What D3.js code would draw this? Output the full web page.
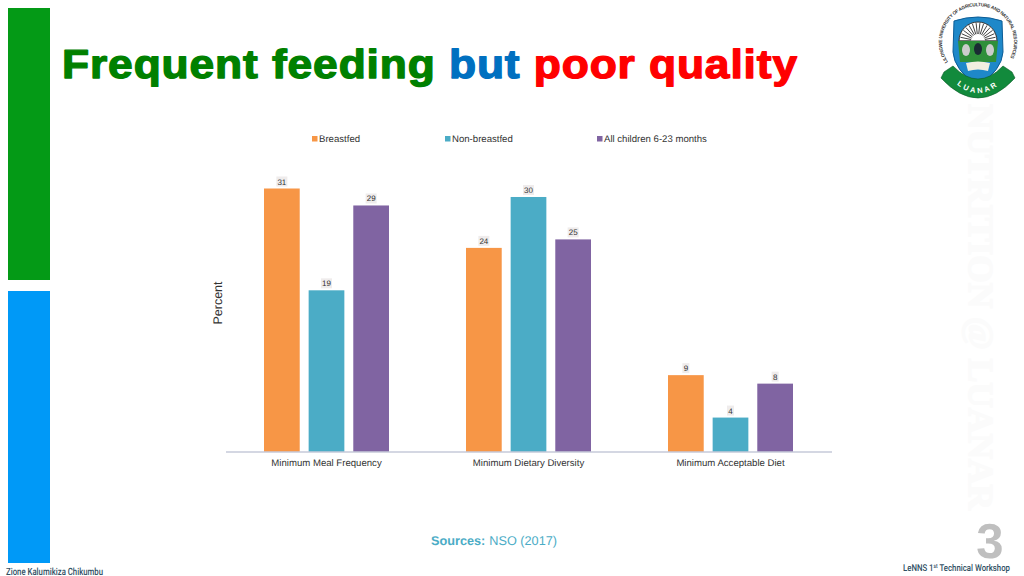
<!DOCTYPE html>
<html><head><meta charset="utf-8">
<script src="https://cdn.jsdelivr.net/npm/d3@7"></script>
<style>html,body{margin:0;padding:0;background:#fff}svg{display:block}text{font-family:"Liberation Sans",Arial,sans-serif;text-rendering:geometricPrecision}</style>
</head><body><svg id="c" width="1024" height="576"></svg>
<script>
const categories=["Minimum Meal Frequency","Minimum Dietary Diversity","Minimum Acceptable Diet"];
const seriesNames=["Breastfed","Non-breastfed","All children 6-23 months"];
const breastfed=[31,24,9];
const nonBreastfed=[19,30,4];
const allChildren=[29,25,8];
const seriesColors=["#F79646","#4BACC6","#8064A2"];
const legendX=[312,445,597];
const titleParts=[["Frequent feeding ","#008000"],["but ","#0070C0"],["poor quality","#FF0000"]];

const svg=d3.select("#c");
const seriesValues=[breastfed,nonBreastfed,allChildren];
function fitWidth(sel,x,yy,w){const n=sel.node();const nat=n.getComputedTextLength();sel.attr("transform",`translate(${x},${yy}) scale(${w/nat},1)`);}

// watermark
const wm=svg.append("text").attr("font-size",35).attr("font-weight",700).attr("fill","#fbfbfb").attr("stroke","#fbfbfb").attr("stroke-width",1.5)
 .style("font-family","'Liberation Serif',serif").text("NUTRITION @ LUANAR");
wm.attr("transform",`translate(969,104) rotate(90) scale(${406/wm.node().getComputedTextLength()},1)`);

// side bars
svg.append("rect").attr("x",8).attr("y",8).attr("width",42).attr("height",272).attr("fill","#049A16");
svg.append("rect").attr("x",8).attr("y",291).attr("width",42).attr("height",272).attr("fill","#0099F7");

// title
const t=svg.append("text").attr("font-size",40.5).attr("font-weight",700).attr("letter-spacing",.8).attr("xml:space","preserve").style("opacity",.999);
titleParts.forEach(p=>t.append("tspan").attr("fill",p[1]).attr("stroke",p[1]).attr("stroke-width",1.3).attr("stroke-linejoin","round").text(p[0]));
fitWidth(t,62,77.5,736);

// scales
const x0=d3.scaleBand().domain(categories).range([225.5,831.5]);
const x1=d3.scaleBand().domain(seriesNames).range([0,125]).paddingInner(.2);
const y=d3.scaleLinear().domain([0,31]).range([451.5,188.5]);
const groupOffset=c=>x0(c)+(x0.bandwidth()-125)/2;

// legend
seriesNames.forEach((n,i)=>{
 svg.append("rect").attr("x",legendX[i]).attr("y",136).attr("width",5.5).attr("height",5.5).attr("fill",seriesColors[i]);
 svg.append("text").attr("x",legendX[i]+7).attr("y",142).attr("font-size",9.6).attr("fill","#333").text(n);
});

// bars
seriesNames.forEach((n,i)=>{
 categories.forEach((c,j)=>{
  const v=seriesValues[i][j],bx=groupOffset(c)+x1(n),cx=bx+x1.bandwidth()/2;
  svg.append("rect").attr("x",bx).attr("y",y(v)).attr("width",x1.bandwidth()).attr("height",y(0)-y(v)).attr("fill",seriesColors[i]);
  const w=String(v).length>1?11:7;
  svg.append("rect").attr("x",cx-w/2).attr("y",y(v)-12).attr("width",w).attr("height",10).attr("fill","#efecec");
  svg.append("text").attr("x",cx).attr("y",y(v)-4).attr("text-anchor","middle").attr("font-size",8).attr("fill","#333").text(v);
 });
});

// axis
const axis=d3.axisBottom(x0).tickSize(0).tickPadding(8);
const ga=svg.append("g").attr("transform","translate(0,451.5)").call(axis);
ga.select(".domain").attr("stroke","#a9afc6").attr("stroke-width",1);
ga.selectAll("text").attr("font-size",9.6).attr("fill","#333").style("font-family","'Liberation Sans',sans-serif");

svg.append("text").attr("transform","translate(222,303) rotate(-90)").attr("text-anchor","middle").attr("font-size",12.5).attr("fill","#333").text("Percent");

// sources
const s=svg.append("text").attr("x",431).attr("y",545).attr("font-size",12.7).attr("fill","#4BACC6");
s.append("tspan").attr("font-weight",700).text("Sources:");
s.append("tspan").attr("dx",4).text("NSO (2017)");

// page number & footers
svg.append("text").attr("x",990).attr("y",558).attr("text-anchor","middle").attr("font-size",49).attr("font-weight",700).attr("fill","#bfbfbf").text("3");
const f=svg.append("text").attr("font-size",9.5).attr("font-weight",500).attr("fill","#2f4f63").style("font-family","Roboto,sans-serif");
f.append("tspan").text("LeNNS 1");
f.append("tspan").attr("font-size",6).attr("dy",-3).text("st");
f.append("tspan").attr("dy",3).text(" Technical Workshop");
fitWidth(f,903,571,107);
const z=svg.append("text").attr("font-size",10).attr("font-weight",500).attr("fill","#2f4f63").style("font-family","Roboto,sans-serif").text("Zione Kalumikiza Chikumbu");
fitWidth(z,6,574.5,97);

// logo (absolute y, centred at x=978)
const L=svg.append("g").attr("transform","translate(978,0)");
const defs=svg.append("defs");
defs.append("path").attr("id","arc").attr("d","M-30,62A36,36 0 1 1 30,62");
L.append("text").attr("font-size",4.7).attr("font-weight",700).attr("fill","#333").attr("textLength",150).append("textPath").attr("href","#arc").text("LILONGWE UNIVERSITY OF AGRICULTURE AND NATURAL RESOURCES");
L.append("path").attr("d","M-24,21Q0,13 24,21L25,52Q24,70 0,86Q-24,70 -25,52Z").attr("fill","#1E88C9").attr("stroke","#0b5c96");
L.append("path").attr("d","M-19,41A19,19 0 0 1 19,41Z").attr("fill","#fff").attr("stroke","#333").attr("stroke-width",1);
d3.range(0,181,12).forEach(a=>{const r=a*Math.PI/180;L.append("line").attr("x1",-7*Math.cos(r)).attr("y1",41-7*Math.sin(r)).attr("x2",-18*Math.cos(r)).attr("y2",41-18*Math.sin(r)).attr("stroke","#444").attr("stroke-width",1);});
L.append("path").attr("d","M-20,41H20L18,62H-18Z").attr("fill","#2F8F3A");
L.append("path").attr("d","M-12,63Q0,60 12,63L10,71Q0,68 -10,71Z").attr("fill","#f2efe0");
[[-12,50,"#ccc"],[0,49,"#1a2a33"],[12,50,"#ccc"]].forEach(d=>L.append("ellipse").attr("cx",d[0]).attr("cy",d[1]).attr("rx",4).attr("ry",6).attr("fill",d[2]));
L.append("path").attr("d","M-34,72L-25,66Q0,92 25,66L34,72L37,78Q0,118 -37,78Z").attr("fill","#128A3C").attr("stroke","#0a5a26").attr("stroke-width",.6);
defs.append("path").attr("id","ban").attr("d","M-24,82Q0,104 24,82");
L.append("text").attr("font-size",7.5).attr("font-weight",700).attr("fill","#fff").attr("letter-spacing",2.4).append("textPath").attr("href","#ban").attr("startOffset","7%").text("LUANAR");
</script></body></html>
